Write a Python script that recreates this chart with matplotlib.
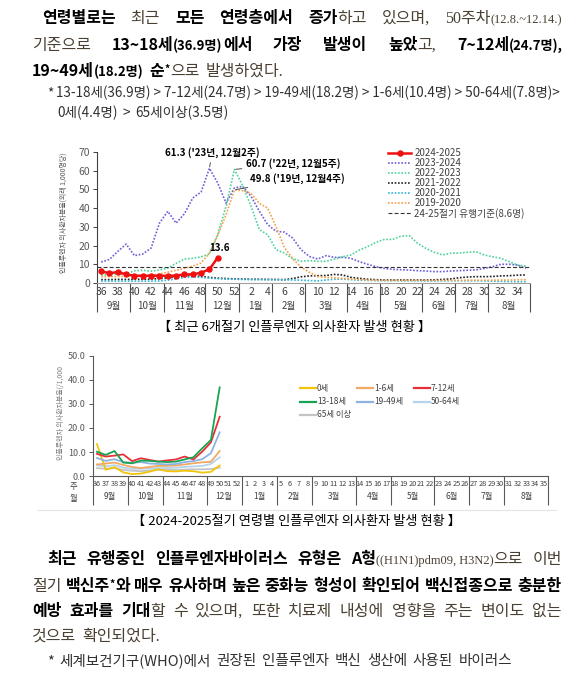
import numpy as np
import matplotlib
matplotlib.use("Agg")
import matplotlib.pyplot as plt
from matplotlib.lines import Line2D

KR = ["Noto Sans CJK KR", "DejaVu Sans"]
SERIF_KR = ["Liberation Serif", "Noto Sans CJK KR", "DejaVu Sans"]
plt.rcParams["font.family"] = KR

W, H = 585, 675

# ---- data -------------------------------------------------------------
weeks = list(range(36, 53)) + list(range(1, 36))
months = ["9월", "10월", "11월", "12월", "1월", "2월", "3월", "4월", "5월", "6월", "7월", "8월"]
month_weeks = [4, 4, 5, 4, 4, 4, 5, 4, 5, 4, 4, 5]

s2425 = [6.3, 5.2, 5.9, 4.6, 3.9, 3.9, 3.9, 3.9, 3.8, 4.0, 4.6, 4.6, 5.5, 7.3, 13.6]
s2324 = [11.2, 12.6, 16.9, 20.8, 14.6, 15.5, 18.7, 32.0, 38.3, 32.0, 37.0, 45.4, 48.6, 61.3, 53.4, 42.7, 50.8,
         51.7, 46.3, 38.3, 31.2, 27.6, 27.2, 24.0, 17.8, 14.2, 12.8, 14.6, 13.7, 13.7, 13.2, 11.4, 10.0, 8.7,
         7.8, 7.3, 7.1, 6.9, 6.6, 6.4, 6.1, 6.1, 6.4, 6.6, 6.8, 7.0, 7.8, 8.7, 10.0, 10.0, 9.6, 7.8]
s2223 = [4.3, 4.5, 4.8, 5.0, 6.5, 6.8, 6.3, 7.0, 8.0, 10.5, 12.8, 13.2, 14.0, 15.5, 26.0, 41.0, 60.7,
         52.0, 41.0, 28.5, 25.8, 17.8, 16.0, 13.0, 11.6, 12.0, 11.6, 11.6, 12.8, 14.0, 15.0, 17.6, 19.4, 21.7,
         23.3, 23.3, 25.0, 25.3, 21.2, 18.5, 16.4, 15.0, 15.9, 16.0, 16.4, 16.7, 15.0, 14.0, 13.2, 11.4, 9.6, 9.0]
s2122 = [1.8, 1.8, 1.9, 1.9, 2.0, 2.0, 2.1, 2.3, 2.8, 3.3, 3.7, 3.8, 3.5, 3.0, 2.6, 2.4, 2.2,
         2.1, 2.0, 2.0, 1.9, 1.9, 1.8, 2.4, 3.3, 3.8, 3.9, 4.0, 4.6, 4.3, 3.0, 2.5, 2.0, 1.8,
         1.6, 1.6, 1.6, 1.6, 1.6, 1.6, 1.7, 1.9, 2.2, 2.8, 3.2, 3.4, 3.4, 3.5, 3.8, 3.9, 4.2, 4.3]
s2021 = [1.0, 1.0, 1.0, 1.0, 1.0, 1.0, 1.0, 1.1, 1.5, 2.2, 3.0, 3.2, 3.0, 2.6, 2.3, 2.1, 2.0,
         1.9, 1.8, 1.8, 1.8, 1.7, 1.7, 1.6, 1.5, 1.3, 1.1, 1.6, 2.0, 2.1, 1.8, 1.5, 1.4, 1.3,
         1.3, 1.3, 1.2, 1.2, 1.2, 1.1, 1.1, 1.1, 1.2, 1.2, 1.2, 1.2, 1.1, 1.0, 0.9, 0.8, 0.7, 0.7]
s1920 = [3.5, 3.4, 3.5, 3.6, 3.5, 3.7, 4.0, 4.8, 5.8, 6.8, 7.8, 9.0, 10.7, 16.0, 25.5, 36.5, 49.8,
         49.3, 48.0, 42.5, 40.0, 30.0, 19.0, 13.0, 8.5, 5.7, 3.5, 3.0, 2.8, 2.4, 2.1, 1.9, 1.6, 1.5,
         1.4, 1.4, 1.4, 1.4, 1.4, 1.4, 1.4, 1.4, 1.4, 1.4, 1.5, 1.5, 1.5, 1.5, 1.6, 1.6, 1.7, 1.8]
threshold = 8.6

age_labels = ["0세", "1-6세", "7-12세", "13-18세", "19-49세", "50-64세", "65세 이상"]
age_0 = [13.3, 2.6, 3.7, 1.5, 0.8, 1.0, 1.8, 2.8, 2.0, 1.9, 2.2, 2.0, 1.4, 1.7, 4.4]
age_1_6 = [4.8, 5.2, 5.6, 4.6, 3.8, 3.3, 3.8, 4.2, 4.2, 4.4, 4.8, 5.3, 5.7, 5.9, 10.4]
age_7_12 = [9.2, 8.1, 8.5, 9.0, 6.2, 7.4, 6.7, 6.0, 6.5, 6.9, 8.1, 6.9, 10.1, 14.0, 24.7]
age_13_18 = [10.1, 8.8, 10.4, 5.6, 5.3, 6.4, 6.3, 6.0, 5.8, 6.0, 6.9, 7.8, 11.5, 15.0, 36.9]
age_19_49 = [7.5, 6.3, 7.0, 5.8, 5.5, 5.8, 5.2, 5.0, 4.8, 5.0, 5.8, 6.2, 7.0, 9.5, 18.2]
age_50_64 = [4.5, 4.0, 4.5, 3.5, 3.0, 3.0, 3.2, 3.3, 3.3, 3.5, 3.8, 4.0, 4.2, 5.0, 7.8]
age_65 = [3.3, 3.0, 3.3, 2.5, 2.2, 2.0, 2.3, 2.6, 2.5, 2.6, 2.7, 2.8, 2.8, 2.9, 3.5]

# ---- figure + text helper ------------------------------------------------
fig = plt.figure(figsize=(W / 100, H / 100), dpi=100)
renderer = fig.canvas.get_renderer()

BODY = "#4a4032"
STYLES = {
    "b": dict(size=11.5, weight="bold", color="black", family=KR),
    "bs": dict(size=9.5, weight="bold", color="black", family=KR),
    "sup": dict(size=7.5, weight="bold", color="black", family=KR, dy=-4),
    "r": dict(size=11.5, color=BODY, family=SERIF_KR),
    "s": dict(size=9, color=BODY, family=SERIF_KR),
    "f": dict(size=9.8, color="#303030", family=KR),
    "fl": dict(size=10.5, color="#303030", family=KR),
}


def put_line(words, x0, y, x1=None, gap=6):
    placed = []
    for word in words:
        parts = []
        for txt, key in word:
            st = dict(STYLES[key])
            dy = st.pop("dy", 0)
            t = fig.text(0, 0, txt, ha="left", va="baseline", **st)
            parts.append([t, t.get_window_extent(renderer).width, dy])
        placed.append(parts)
    total = sum(p[1] for parts in placed for p in parts)
    if x1 is not None and len(words) > 1:
        gap = (x1 - x0 - total) / (len(words) - 1)
        if gap < 3:  # too wide: shrink the line a bit
            k = (x1 - x0 - 3 * (len(words) - 1)) / total
            for parts in placed:
                for p in parts:
                    p[0].set_fontsize(p[0].get_fontsize() * k)
                    p[1] = p[0].get_window_extent(renderer).width
            gap = 3
    x = x0
    for parts in placed:
        for t, w, dy in parts:
            t.set_position((x / W, 1 - (y + dy) / H))
            x += w
        x += gap


def words_of(s, key):
    return [[(w, key)] for w in s.split(" ")]


# ---- top paragraph ---------------------------------------------------------
put_line([[("연령별로는", "b")], [("최근", "r")], [("모든", "b")], [("연령층에서", "b")],
          [("증가", "b"), ("하고", "r")], [("있으며,", "r")], [("50주차", "r"), ("(12.8.~12.14.)", "s")]],
         42, 23, 562)
put_line([[("기준으로", "r")], [("13~18세", "b"), ("(36.9명)", "bs"), ("에서", "b")], [("가장", "b")],
          [("발생이", "b")], [("높았", "b"), ("고,", "r")], [("7~12세", "b"), ("(24.7명),", "bs")]],
         32, 50, 563)
put_line([[("19~49세", "b"), ("(18.2명)", "bs")], [("순", "b"), ("*", "sup"), ("으로", "r")], [("발생하였다.", "r")]],
         32, 76)
put_line([[("*", "f")], [("13-18세(36.9명) > 7-12세(24.7명) > 19-49세(18.2명) > 1-6세(10.4명) > 50-64세(7.8명)>", "f")]],
         47, 97, 562)
put_line(words_of("0세(4.4명) > 65세이상(3.5명)", "f"), 57, 117, gap=5)

# ---- chart 1 : six seasons ------------------------------------------------
x = np.arange(len(weeks))
ax1 = fig.add_axes([97 / W, 1 - 283 / H, (530 - 97) / W, (283 - 152) / H])
ax1.set_xlim(-0.5, 51.5)
ax1.set_ylim(0, 70)

dot = (0, (1, 1))
seasons = [
    (s2324, "#6a5fd8", "2023-2024"),
    (s2223, "#4fd39a", "2022-2023"),
    (s2122, "#222222", "2021-2022"),
    (s2021, "#35b6d8", "2020-2021"),
    (s1920, "#f5a04a", "2019-2020"),
]
handles = []
for vals, col, lab in seasons:
    ln, = ax1.plot(x, vals, ls=dot, lw=1.2, color=col, label=lab)
    handles.append(ln)
thr = ax1.axhline(threshold, ls=(0, (3.5, 2)), lw=0.8, color="#333333", label="24-25절기 유행기준(8.6명)")
cur, = ax1.plot(x[:len(s2425)], s2425, "-o", color="#ee1111", lw=1.8, ms=3.6, zorder=5, label="2024-2025")
handles = [cur] + handles + [thr]
ax1.legend(handles=handles, loc="upper left", bbox_to_anchor=(388 / W, 1 - 148 / H),
           bbox_transform=fig.transFigure, frameon=False, fontsize=7, handlelength=2.4,
           handletextpad=0.3, labelspacing=0.0, borderpad=0, borderaxespad=0, labelcolor="#404040")

ax1.set_yticks(range(0, 71, 10))
ax1.tick_params(axis="y", labelsize=7.5, labelcolor="#595959", length=3, width=0.7, color="#404040", pad=2)
ax1.set_xticks(x[::2])
ax1.set_xticklabels([str(w) for w in weeks[::2]])
ax1.tick_params(axis="x", length=0, pad=3, labelsize=7.5, labelcolor="#404040")
for s in ["top", "right"]:
    ax1.spines[s].set_visible(False)
ax1.spines["bottom"].set_color("#a0a0a0")
ax1.spines["left"].set_color("#404040")
ax1.spines["left"].set_linewidth(0.8)

bounds = -0.5 + np.cumsum([0] + month_weeks)
ax1.vlines(bounds, -0.221, 0, transform=ax1.get_xaxis_transform(), clip_on=False, color="#505050", lw=0.8)
for m, a, b in zip(months, bounds[:-1], bounds[1:]):
    ax1.text((a + b) / 2, -0.176, m, transform=ax1.get_xaxis_transform(), ha="center", va="center",
             fontsize=7, color="#404040")

fig.text(64 / W, 1 - 213 / H, "인플루엔자 의사환자분율(외래 1,000명당)", rotation=90,
         ha="center", va="center", fontsize=5, color="#595959")

ann = dict(textcoords="figure pixels", fontsize=7, fontweight="bold", va="center",
           arrowprops=dict(arrowstyle="-", lw=0.6, color="#333333", shrinkA=1, shrinkB=1))
ax1.annotate("61.3 ('23년, 12월2주)", xy=(13, 61.3), xytext=(212, H - 153), ha="center", **ann)
ax1.annotate("60.7 ('22년, 12월5주)", xy=(16, 60.7), xytext=(246, H - 164), ha="left", **ann)
ax1.annotate("49.8 ('19년, 12월4주)", xy=(16, 49.8), xytext=(250, H - 179), ha="left", **ann)
ax1.annotate("13.6", xy=(14, 13.6), xytext=(219, H - 248), ha="center", textcoords="figure pixels",
             fontsize=7, fontweight="bold", va="center")

fig.text(295 / W, 1 - 331 / H, "【 최근 6개절기 인플루엔자 의사환자 발생 현황 】", ha="center",
         va="baseline", fontsize=9.5, color="black")

# ---- chart 2 : age groups -------------------------------------------------
ax2 = fig.add_axes([92.6 / W, 1 - 476 / H, (548.3 - 92.6) / W, 120 / H])
ax2.set_xlim(-0.5, 51.5)
ax2.set_ylim(0, 50)
age_series = [age_0, age_1_6, age_7_12, age_13_18, age_19_49, age_50_64, age_65]
age_colors = ["#f2c40c", "#f2a964", "#e8303a", "#17a352", "#8db3e2", "#b4d4ec", "#c4c4c4"]
zs = [3, 3, 5, 6, 4, 2, 1]
for vals, col, z in zip(age_series, age_colors, zs):
    ax2.plot(x[:len(vals)], vals, color=col, lw=1.3, zorder=z)

ax2.set_yticks(range(0, 51, 10))
ax2.set_yticklabels([f"{v:.1f}" for v in range(0, 51, 10)])
ax2.tick_params(axis="y", labelsize=6.5, labelcolor="#595959", length=3, width=0.7, color="#595959", pad=2)
ax2.set_xticks(x)
ax2.set_xticklabels([str(w) for w in weeks])
ax2.tick_params(axis="x", length=0, pad=3, labelsize=5.3, labelcolor="#404040")
for s in ["top", "right"]:
    ax2.spines[s].set_visible(False)
for s in ["bottom", "left"]:
    ax2.spines[s].set_color("#595959")
    ax2.spines[s].set_linewidth(0.8)
ax2.vlines(bounds, -0.242, 0, transform=ax2.get_xaxis_transform(), clip_on=False, color="#595959", lw=0.8)
for m, a, b in zip(months, bounds[:-1], bounds[1:]):
    ax2.text((a + b) / 2, -0.175, m, transform=ax2.get_xaxis_transform(), ha="center", va="center",
             fontsize=6, color="#404040")
fig.text(73 / W, 1 - 486 / H, "주", ha="center", va="center", fontsize=6, color="#404040")
fig.text(73 / W, 1 - 498 / H, "월", ha="center", va="center", fontsize=6, color="#404040")
fig.text(61 / W, 1 - 413 / H, "인플루엔자 의사환자분율(/1,000", rotation=90,
         ha="center", va="center", fontsize=5, color="#808080")

# legend of chart 2, laid out row by row like the source
for i, (lab, col) in enumerate(zip(age_labels, age_colors)):
    r, c = divmod(i, 3)
    lx = 300 + 57 * c
    ly = 388 + 13.5 * r
    fig.add_artist(Line2D([lx / W, (lx + 16) / W], [1 - ly / H, 1 - ly / H], color=col, lw=1.6))
    fig.text((lx + 17) / W, 1 - ly / H, lab, ha="left", va="center", fontsize=6, color="#404040")

fig.add_artist(Line2D([38 / W, 556 / W], [1 - 510 / H, 1 - 510 / H], color="#e4e4e4", lw=0.8))
fig.text(296 / W, 1 - 525 / H, "【 2024-2025절기 연령별 인플루엔자 의사환자 발생 현황 】", ha="center",
         va="baseline", fontsize=9.5, color="black")

# ---- bottom paragraph -----------------------------------------------------
put_line([[("최근", "b")], [("유행중인", "b")], [("인플루엔자바이러스", "b")], [("유형은", "b")],
          [("A형", "b"), ("((H1N1)pdm09, H3N2)", "s"), ("으로", "r")], [("이번", "r")]],
         47, 564, 562)
put_line([[("절기", "r")], [("백신주", "b"), ("*", "sup"), ("와", "b")]]
         + words_of("매우 유사하며 높은 중화능 형성이 확인되어 백신접종으로 충분한", "b"),
         32, 591, 562)
put_line(words_of("예방 효과를", "b") + [[("기대", "b"), ("할", "r")]]
         + words_of("수 있으며, 또한 치료제 내성에 영향을 주는 변이도 없는", "r"),
         32, 616, 562)
put_line(words_of("것으로 확인되었다.", "r"), 32, 641, gap=6)
put_line(words_of("* 세계보건기구(WHO)에서 권장된 인플루엔자 백신 생산에 사용된 바이러스", "fl"), 47, 665, 512)

fig.savefig("out.png", dpi=100)
